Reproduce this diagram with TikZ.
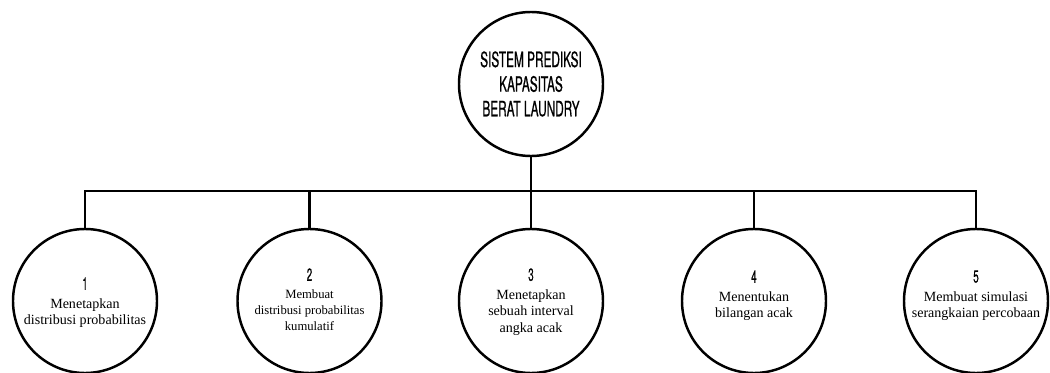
\documentclass[tikz,border=0pt]{standalone}
\usepackage{fontspec}
\setmainfont{Liberation Serif}
\newfontfamily\titlefont[FakeStretch=0.56, FakeBold=0.6]{TeX Gyre Heros}
\usepackage{tikz}
\usetikzlibrary{positioning, calc}

\begin{document}
\begin{tikzpicture}[
        bubble/.style={
            circle,
            draw=black,
            line width=1.4pt,
            minimum size=2.88cm,
            inner sep=0pt
        },
        caption/.style={
            anchor=north,
            align=center,
            inner sep=0pt,
            font=\fontsize{8}{9.5}\selectfont
        },
        link/.style={
            line width=1.2pt,
            black
        }
    ]
    \useasboundingbox (0,0) rectangle (21,7.44);

    % Root
    \node[bubble, align=center, font=\titlefont\fontsize{12}{14}\selectfont] (root) at (10.62, 5.76)
        {SISTEM PREDIKSI\\KAPASITAS\\BERAT LAUNDRY};

    % Steps
    \node[bubble] (c1) at (1.70, 1.42) {};
    \node[bubble] (c2) at (6.19, 1.42) {};
    \node[bubble] (c3) at (10.62, 1.42) {};
    \node[bubble] (c4) at (15.08, 1.42) {};
    \node[bubble] (c5) at (19.52, 1.42) {};

    % Step texts
    \node[caption] (t1) at ($(c1)+(0,0.48)$)
        {{\titlefont\fontsize{10}{10}\selectfont 1}\\[1pt] Menetapkan\\distribusi probabilitas};
    \node[caption, font=\fontsize{7.2}{9}\selectfont] (t2) at ($(c2)+(0,0.66)$)
        {{\titlefont\fontsize{10}{10}\selectfont 2}\\[1pt] Membuat\\distribusi probabilitas\\kumulatif};
    \node[caption] (t3) at ($(c3)+(0,0.66)$)
        {{\titlefont\fontsize{10}{10}\selectfont 3}\\[1pt] Menetapkan\\sebuah interval\\angka acak};
    \node[caption] (t4) at ($(c4)+(0,0.62)$)
        {{\titlefont\fontsize{10}{10}\selectfont 4}\\[1pt] Menentukan\\bilangan acak};
    \node[caption] (t5) at ($(c5)+(0,0.62)$)
        {{\titlefont\fontsize{10}{10}\selectfont 5}\\[1pt] Membuat simulasi\\serangkaian percobaan};

    % Connectors
    \coordinate (bus) at (10.62, 3.62);
    \draw[link] (root.south) -- (bus);
    \foreach \i in {1,...,5}
        \draw[link] (c\i.north) |- (bus);

\end{tikzpicture}
\end{document}
